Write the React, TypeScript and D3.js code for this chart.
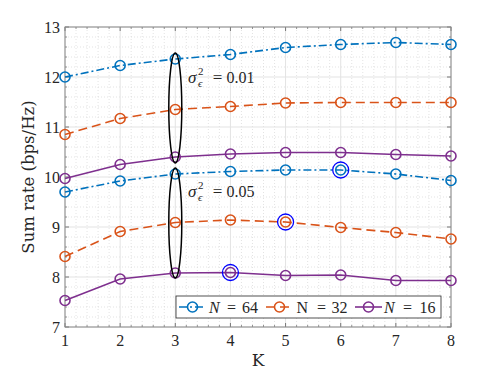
import React from "react";
import * as d3 from "d3";

const K = [1, 2, 3, 4, 5, 6, 7, 8];
const n64_01 = [12.0, 12.23, 12.36, 12.45, 12.59, 12.65, 12.69, 12.65];
const n32_01 = [10.85, 11.17, 11.35, 11.41, 11.48, 11.49, 11.49, 11.49];
const n16_01 = [9.97, 10.25, 10.4, 10.46, 10.49, 10.49, 10.45, 10.42];
const n64_05 = [9.7, 9.92, 10.06, 10.11, 10.14, 10.14, 10.06, 9.93];
const n32_05 = [8.41, 8.91, 9.09, 9.14, 9.1, 8.99, 8.89, 8.76];
const n16_05 = [7.53, 7.96, 8.08, 8.09, 8.03, 8.04, 7.93, 7.93];
const yTicks = [7, 8, 9, 10, 11, 12, 13];
const highlights = [
  { k: 6, v: 10.14 },
  { k: 5, v: 9.1 },
  { k: 4, v: 8.09 },
];
const ellipses = [
  { k: 3, v: 11.38 },
  { k: 3, v: 9.08 },
];
const annotations = [
  { v: 11.88, label: "0.01" },
  { v: 9.6, label: "0.05" },
];
const legendLabels = ["64", "32", "16"];

const BLUE = "#0072BD";
const ORANGE = "#D95319";
const PURPLE = "#7E2F8E";

const series = [
  { data: n64_01, color: BLUE, dash: "8,3,2,3" },
  { data: n32_01, color: ORANGE, dash: "9,5" },
  { data: n16_01, color: PURPLE, dash: "" },
  { data: n64_05, color: BLUE, dash: "8,3,2,3" },
  { data: n32_05, color: ORANGE, dash: "9,5" },
  { data: n16_05, color: PURPLE, dash: "" },
];

const FONT = "'Liberation Serif', 'DejaVu Serif', serif";
const FONT2 = "'DejaVu Serif', serif";

export default function App() {
  const L = 65, R = 451, T = 27, B = 327;
  const x = d3.scaleLinear().domain([1, 8]).range([L, R]);
  const y = d3.scaleLinear().domain([7, 13]).range([B, T]);
  const line = d3.line<number>().x((_, i) => x(K[i])).y((d) => y(d));

  const minorX = d3.range(1, 8.0001, 0.2).filter((v) => Math.abs(v - Math.round(v)) > 1e-6);
  const minorY = d3.range(7, 13.0001, 0.2).filter((v) => Math.abs(v - Math.round(v)) > 1e-6);

  const legendItems = [
    { color: BLUE, dash: "8,3,2,3", x0: 179, italic: true, val: legendLabels[0], tx: 209, eq: 22.5, dx: 33 },
    { color: ORANGE, dash: "9,5", x0: 266, italic: false, val: legendLabels[1], tx: 296.5, eq: 25, dx: 35 },
    { color: PURPLE, dash: "", x0: 355, italic: true, val: legendLabels[2], tx: 384, eq: 23.5, dx: 35.5 },
  ];

  return (
    <svg width={498} height={374} style={{ position: "absolute", left: 0, top: 0, background: "#fff" }} fontFamily={FONT}>
      <rect x={0} y={0} width={498} height={374} fill="#fff" />
      {/* minor grid */}
      {minorX.map((v, i) => (
        <line key={"mx" + i} x1={x(v)} x2={x(v)} y1={T} y2={B} stroke="#d0d0d0" strokeWidth={0.6} strokeDasharray="1,2" />
      ))}
      {minorY.map((v, i) => (
        <line key={"my" + i} x1={L} x2={R} y1={y(v)} y2={y(v)} stroke="#d0d0d0" strokeWidth={0.6} strokeDasharray="1,2" />
      ))}
      {/* major grid */}
      {K.map((v) => (
        <line key={"gx" + v} x1={x(v)} x2={x(v)} y1={T} y2={B} stroke="#e3e3e3" strokeWidth={1} />
      ))}
      {yTicks.map((v) => (
        <line key={"gy" + v} x1={L} x2={R} y1={y(v)} y2={y(v)} stroke="#e3e3e3" strokeWidth={1} />
      ))}
      {/* ticks */}
      {K.map((v) => (
        <g key={"tx" + v}>
          <line x1={x(v)} x2={x(v)} y1={B} y2={B - 4} stroke="#777" />
          <line x1={x(v)} x2={x(v)} y1={T} y2={T + 4} stroke="#777" />
        </g>
      ))}
      {minorX.map((v, i) => (
        <g key={"mtx" + i}>
          <line x1={x(v)} x2={x(v)} y1={B} y2={B - 2} stroke="#777" strokeWidth={0.8} />
          <line x1={x(v)} x2={x(v)} y1={T} y2={T + 2} stroke="#777" strokeWidth={0.8} />
        </g>
      ))}
      {yTicks.map((v) => (
        <g key={"ty" + v}>
          <line x1={L} x2={L + 4} y1={y(v)} y2={y(v)} stroke="#777" />
          <line x1={R} x2={R - 4} y1={y(v)} y2={y(v)} stroke="#777" />
        </g>
      ))}
      {minorY.map((v, i) => (
        <g key={"mty" + i}>
          <line x1={L} x2={L + 2} y1={y(v)} y2={y(v)} stroke="#777" strokeWidth={0.8} />
          <line x1={R} x2={R - 2} y1={y(v)} y2={y(v)} stroke="#777" strokeWidth={0.8} />
        </g>
      ))}
      <rect x={L} y={T} width={R - L} height={B - T} fill="none" stroke="#8a8a8a" strokeWidth={1} />
      {/* tick labels */}
      {K.map((v) => (
        <text key={"xl" + v} x={x(v)} y={B + 19} fontSize={16} textAnchor="middle" fill="#262626">{v}</text>
      ))}
      {yTicks.map((v) => (
        <text key={"yl" + v} x={L - 5} y={y(v) + 5.5} fontSize={16} textAnchor="end" fill="#262626">{v}</text>
      ))}
      <text x={258} y={366} fontSize={17} fontFamily={FONT2} textAnchor="middle" fill="#262626">K</text>
      <text transform={`translate(34,${(T + B) / 2}) rotate(-90)`} fontSize={16.5} fontFamily={FONT2} textAnchor="middle" fill="#262626">Sum rate (bps/Hz)</text>
      {/* series */}
      {series.map((s, i) => (
        <g key={"s" + i}>
          <path d={line(s.data) || ""} fill="none" stroke={s.color} strokeWidth={1.6} strokeDasharray={s.dash} />
          {s.data.map((d, j) => (
            <circle key={j} cx={x(K[j])} cy={y(d)} r={5} fill="none" stroke={s.color} strokeWidth={1.6} />
          ))}
        </g>
      ))}
      {/* highlights */}
      {highlights.map((h, i) => (
        <circle key={"h" + i} cx={x(h.k)} cy={y(h.v)} r={8} fill="none" stroke="#0000ff" strokeWidth={1.3} />
      ))}
      {/* ellipses */}
      {ellipses.map((e, i) => (
        <ellipse key={"e" + i} cx={x(e.k)} cy={y(e.v)} rx={6.5} ry={55} fill="none" stroke="#000" strokeWidth={1.5} />
      ))}
      {/* annotations */}
      {annotations.map((a, i) => {
        const by = y(a.v);
        return (
          <g key={"an" + i} fill="#262626">
            <text x={188} y={by} fontSize={17} fontStyle="italic">σ</text>
            <text x={198} y={by - 8} fontSize={11}>2</text>
            <text x={198} y={by + 4} fontSize={11} fontStyle="italic">ϵ</text>
            <text x={217.5} y={by} fontSize={17} textAnchor="middle">=</text>
            <text x={226.5} y={by} fontSize={16}>{a.label}</text>
          </g>
        );
      })}
      {/* legend */}
      <rect x={176} y={296} width={265} height={22} fill="#fff" stroke="#262626" strokeWidth={0.8} />
      {legendItems.map((it, i) => (
        <g key={"lg" + i} fill="#262626">
          <line x1={it.x0} x2={it.x0 + 27} y1={307} y2={307} stroke={it.color} strokeWidth={1.6} strokeDasharray={it.dash} />
          <circle cx={it.x0 + 13.5} cy={307} r={5} fill="none" stroke={it.color} strokeWidth={1.6} />
          <text x={it.tx} y={312.5} fontSize={16} fontStyle={it.italic ? "italic" : "normal"}>N</text>
          <text x={it.tx + it.eq} y={312.5} fontSize={16} textAnchor="middle">=</text>
          <text x={it.tx + it.dx} y={312.5} fontSize={16}>{it.val}</text>
        </g>
      ))}
    </svg>
  );
}
